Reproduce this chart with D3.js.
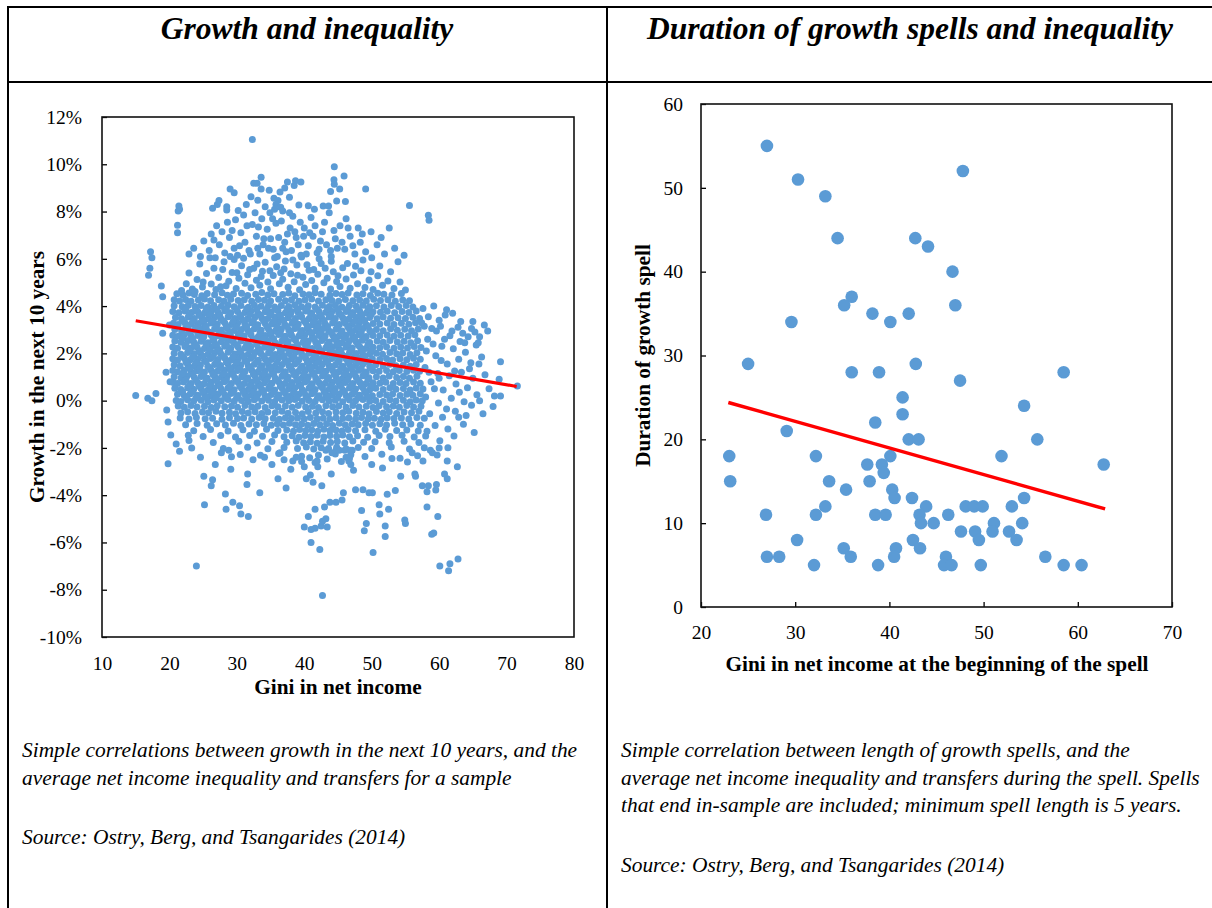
<!DOCTYPE html>
<html>
<head>
<meta charset="utf-8">
<script src="https://cdn.jsdelivr.net/npm/d3@7"></script>
<style>
  html, body { margin: 0; padding: 0; background: #fff; }
  svg { display: block; font-family: "Liberation Serif", "Times New Roman", serif; }
</style>
</head>
<body>
<svg id="chart" width="1212" height="908"></svg>
<script>
// ---------- Panel 1: growth in the next 10 years vs. Gini in net income ----------
// Each entry is [gini, growth %].
const giniGrowthCore = [
  [21.1,4.52],[22.0,4.47],[22.9,4.55],[23.7,4.49],[24.8,4.44],[25.6,4.53],[26.7,4.48],[27.8,4.56],[28.6,4.46],[29.5,4.51],[30.7,4.54],[31.6,4.45],[32.8,4.50],[33.7,4.57],[34.6,4.47],[35.5,4.52],[36.8,4.49],[37.7,4.55],[38.6,4.44],[39.8,4.51],[40.7,4.48],[41.6,4.56],[42.5,4.50],[43.8,4.46],[44.7,4.53],[45.6,4.49],[46.5,4.55],[47.8,4.47],[48.7,4.52],[49.8,4.45],[50.9,4.54],[51.8,4.50],[53.0,4.47],[54.4,4.53],
  [20.7,4.27],[21.5,4.22],[22.4,4.28],[23.2,4.21],[24.3,4.26],[25.2,4.30],[26.1,4.23],[27.3,4.27],[28.1,4.20],[29.1,4.29],[30.2,4.24],[31.1,4.27],[32.2,4.21],[33.2,4.28],[34.1,4.25],[35.0,4.22],[36.2,4.29],[37.2,4.23],[38.1,4.27],[39.2,4.20],[40.1,4.26],[41.1,4.30],[42.1,4.22],[43.2,4.27],[44.1,4.24],[45.1,4.21],[46.1,4.28],[47.2,4.23],[48.2,4.26],[49.2,4.22],[50.3,4.29],[51.3,4.24],[52.4,4.27],[53.5,4.21],[54.6,4.26],[55.6,4.23],
  [20.7,4.01],[21.9,3.97],[22.8,4.04],[23.8,3.98],[24.7,4.02],[25.7,3.96],[26.6,4.03],[27.7,3.99],[28.7,4.05],[29.6,3.97],[30.6,4.02],[31.7,3.95],[32.6,4.04],[33.6,3.99],[34.7,4.03],[35.6,3.96],[36.6,4.02],[37.7,3.98],[38.6,4.05],[39.6,3.97],[40.6,4.01],[41.6,3.96],[42.7,4.04],[43.7,3.98],[44.6,4.02],[45.6,3.95],[46.7,4.03],[47.7,3.99],[48.7,4.04],[49.7,3.97],[50.7,4.01],[51.8,3.96],[52.9,4.03],[54.0,3.98],[55.1,4.02],[56.1,3.96],
  [20.5,3.77],[21.4,3.72],[22.3,3.79],[23.3,3.73],[24.2,3.76],[25.2,3.71],[26.2,3.78],[27.2,3.74],[28.2,3.80],[29.1,3.72],[30.1,3.77],[31.2,3.73],[32.1,3.79],[33.1,3.71],[34.2,3.76],[35.1,3.74],[36.1,3.80],[37.2,3.72],[38.1,3.77],[39.1,3.73],[40.2,3.79],[41.1,3.71],[42.2,3.76],[43.2,3.74],[44.1,3.78],[45.1,3.72],[46.2,3.77],[47.2,3.73],[48.2,3.79],[49.2,3.71],[50.2,3.76],[51.3,3.74],[52.3,3.78],[53.4,3.72],[54.5,3.77],[55.5,3.73],[56.6,3.79],
  [20.9,3.52],[21.8,3.46],[22.8,3.54],[23.7,3.48],[24.8,3.51],[25.7,3.45],[26.7,3.53],[27.6,3.49],[28.7,3.55],[29.7,3.47],[30.6,3.52],[31.6,3.46],[32.7,3.54],[33.7,3.50],[34.6,3.47],[35.7,3.53],[36.6,3.45],[37.6,3.51],[38.7,3.48],[39.6,3.55],[40.7,3.46],[41.7,3.52],[42.6,3.49],[43.7,3.54],[44.6,3.47],[45.7,3.51],[46.6,3.45],[47.7,3.53],[48.6,3.48],[49.7,3.52],[50.8,3.46],[51.7,3.54],[52.8,3.49],[53.9,3.51],[55.0,3.47],[56.1,3.53],[57.1,3.48],
  [20.6,3.27],[21.3,3.22],[22.3,3.29],[23.2,3.23],[24.3,3.26],[25.2,3.21],[26.2,3.28],[27.1,3.24],[28.2,3.30],[29.2,3.22],[30.1,3.27],[31.2,3.23],[32.2,3.29],[33.1,3.21],[34.2,3.26],[35.2,3.24],[36.1,3.30],[37.1,3.22],[38.2,3.27],[39.1,3.23],[40.2,3.29],[41.2,3.21],[42.1,3.26],[43.1,3.24],[44.2,3.28],[45.2,3.22],[46.1,3.27],[47.1,3.23],[48.2,3.29],[49.2,3.21],[50.2,3.26],[51.2,3.24],[52.3,3.28],[53.3,3.22],[54.4,3.27],[55.5,3.23],[56.5,3.29],
  [20.8,3.01],[21.8,2.96],[22.7,3.04],[23.7,2.98],[24.7,3.02],[25.6,2.95],[26.7,3.03],[27.7,2.99],[28.6,3.05],[29.6,2.97],[30.7,3.01],[31.7,2.96],[32.6,3.04],[33.6,2.98],[34.7,3.02],[35.7,2.95],[36.6,3.03],[37.7,2.99],[38.6,3.05],[39.7,2.97],[40.6,3.01],[41.7,2.96],[42.7,3.04],[43.6,2.98],[44.7,3.02],[45.6,2.95],[46.7,3.03],[47.6,2.99],[48.7,3.05],[49.7,2.97],[50.7,3.01],[51.7,2.96],[52.8,3.04],[53.8,2.98],[54.9,3.02],[55.9,2.96],[56.9,3.03],
  [20.5,2.77],[21.3,2.72],[22.2,2.79],[23.2,2.73],[24.2,2.76],[25.1,2.71],[26.2,2.78],[27.2,2.74],[28.1,2.80],[29.1,2.72],[30.2,2.77],[31.1,2.73],[32.1,2.79],[33.2,2.71],[34.2,2.76],[35.1,2.74],[36.2,2.80],[37.2,2.72],[38.1,2.77],[39.2,2.73],[40.1,2.79],[41.2,2.71],[42.2,2.76],[43.1,2.74],[44.2,2.78],[45.1,2.72],[46.2,2.77],[47.2,2.73],[48.1,2.79],[49.2,2.71],[50.2,2.76],[51.2,2.74],[52.3,2.78],[53.3,2.72],[54.3,2.77],[55.4,2.73],[56.4,2.79],
  [20.8,2.52],[21.7,2.47],[22.8,2.54],[23.6,2.48],[24.7,2.51],[25.7,2.45],[26.6,2.53],[27.7,2.49],[28.7,2.55],[29.5,2.46],[30.6,2.52],[31.7,2.47],[32.7,2.54],[33.5,2.48],[34.6,2.51],[35.7,2.45],[36.7,2.53],[37.6,2.50],[38.7,2.55],[39.8,2.46],[40.6,2.52],[41.7,2.47],[42.6,2.54],[43.7,2.48],[44.8,2.51],[45.6,2.45],[46.7,2.53],[47.7,2.49],[48.6,2.55],[49.7,2.46],[50.8,2.52],[51.7,2.47],[52.7,2.54],[53.8,2.48],[54.8,2.51],[55.8,2.45],[56.8,2.53],
  [20.5,2.27],[21.2,2.22],[22.3,2.29],[23.2,2.23],[24.1,2.26],[25.2,2.21],[26.2,2.28],[27.1,2.24],[28.2,2.30],[29.1,2.22],[30.2,2.27],[31.2,2.23],[32.1,2.29],[33.2,2.21],[34.1,2.26],[35.2,2.24],[36.2,2.30],[37.1,2.22],[38.2,2.27],[39.1,2.23],[40.2,2.29],[41.2,2.21],[42.1,2.26],[43.2,2.24],[44.2,2.28],[45.1,2.22],[46.2,2.27],[47.1,2.23],[48.2,2.29],[49.1,2.21],[50.2,2.26],[51.2,2.24],[52.2,2.28],[53.3,2.22],[54.3,2.27],[55.3,2.23],[56.3,2.29],[57.3,2.25],
  [20.7,2.01],[21.7,1.96],[22.7,2.04],[23.7,1.98],[24.6,2.02],[25.7,1.95],[26.7,2.03],[27.6,1.99],[28.7,2.05],[29.7,1.97],[30.6,2.01],[31.7,1.96],[32.7,2.04],[33.6,1.98],[34.7,2.02],[35.7,1.95],[36.6,2.03],[37.7,1.99],[38.7,2.05],[39.6,1.97],[40.7,2.01],[41.7,1.96],[42.6,2.04],[43.7,1.98],[44.7,2.02],[45.6,1.95],[46.7,2.03],[47.7,1.99],[48.6,2.05],[49.7,1.97],[50.7,2.01],[51.6,1.96],[52.7,2.04],[53.7,1.98],[54.6,2.02],[55.7,1.95],[56.7,2.03],
  [20.5,1.77],[21.2,1.72],[22.2,1.79],[23.1,1.73],[24.2,1.76],[25.2,1.71],[26.1,1.78],[27.2,1.74],[28.2,1.80],[29.1,1.72],[30.2,1.77],[31.2,1.73],[32.1,1.79],[33.2,1.71],[34.2,1.76],[35.1,1.74],[36.2,1.80],[37.2,1.72],[38.1,1.77],[39.2,1.73],[40.2,1.79],[41.1,1.71],[42.2,1.76],[43.2,1.74],[44.1,1.78],[45.2,1.72],[46.2,1.77],[47.1,1.73],[48.2,1.79],[49.2,1.71],[50.1,1.76],[51.2,1.74],[52.2,1.78],[53.1,1.72],[54.2,1.77],[55.2,1.73],[56.2,1.79],[57.2,1.75],
  [20.7,1.52],[21.6,1.47],[22.7,1.54],[23.7,1.48],[24.6,1.51],[25.7,1.45],[26.7,1.53],[27.6,1.49],[28.7,1.55],[29.7,1.46],[30.6,1.52],[31.7,1.47],[32.6,1.54],[33.7,1.48],[34.7,1.51],[35.6,1.45],[36.7,1.53],[37.7,1.50],[38.6,1.55],[39.7,1.46],[40.7,1.52],[41.6,1.47],[42.7,1.54],[43.7,1.48],[44.6,1.51],[45.7,1.45],[46.7,1.53],[47.6,1.49],[48.7,1.55],[49.7,1.46],[50.6,1.52],[51.7,1.47],[52.7,1.54],[53.6,1.48],[54.7,1.51],[55.7,1.45],[56.6,1.53],
  [20.5,1.27],[21.2,1.22],[22.2,1.29],[23.2,1.23],[24.1,1.26],[25.2,1.21],[26.2,1.28],[27.1,1.24],[28.2,1.30],[29.2,1.22],[30.1,1.27],[31.2,1.23],[32.2,1.29],[33.1,1.21],[34.2,1.26],[35.2,1.24],[36.1,1.30],[37.2,1.22],[38.2,1.27],[39.1,1.23],[40.2,1.29],[41.2,1.21],[42.1,1.26],[43.2,1.24],[44.2,1.28],[45.1,1.22],[46.2,1.27],[47.2,1.23],[48.1,1.29],[49.2,1.21],[50.2,1.26],[51.1,1.24],[52.2,1.28],[53.2,1.22],[54.1,1.27],[55.2,1.23],[56.2,1.29],[57.1,1.24],
  [20.7,1.01],[21.7,0.96],[22.6,1.04],[23.7,0.98],[24.7,1.02],[25.6,0.95],[26.7,1.03],[27.7,0.99],[28.6,1.05],[29.7,0.97],[30.7,1.01],[31.6,0.96],[32.7,1.04],[33.7,0.98],[34.6,1.02],[35.7,0.95],[36.7,1.03],[37.6,0.99],[38.7,1.05],[39.7,0.97],[40.6,1.01],[41.7,0.96],[42.7,1.04],[43.6,0.98],[44.7,1.02],[45.7,0.95],[46.6,1.03],[47.7,0.99],[48.7,1.05],[49.6,0.97],[50.7,1.01],[51.7,0.96],[52.6,1.04],[53.7,0.98],[54.7,1.02],[55.6,0.95],[56.7,1.03],
  [20.6,0.77],[21.2,0.72],[22.1,0.79],[23.2,0.73],[24.2,0.76],[25.1,0.71],[26.2,0.78],[27.2,0.74],[28.1,0.80],[29.2,0.72],[30.2,0.77],[31.1,0.73],[32.2,0.79],[33.2,0.71],[34.1,0.76],[35.2,0.74],[36.2,0.80],[37.1,0.72],[38.2,0.77],[39.2,0.73],[40.1,0.79],[41.2,0.71],[42.2,0.76],[43.1,0.74],[44.2,0.78],[45.2,0.72],[46.1,0.77],[47.2,0.73],[48.2,0.79],[49.1,0.71],[50.2,0.76],[51.2,0.74],[52.1,0.78],[53.2,0.72],[54.2,0.77],[55.1,0.73],[56.2,0.79],[57.2,0.74],
  [20.8,0.52],[21.7,0.47],[22.7,0.54],[23.6,0.48],[24.7,0.51],[25.7,0.45],[26.6,0.53],[27.7,0.49],[28.7,0.55],[29.6,0.46],[30.7,0.52],[31.7,0.47],[32.6,0.54],[33.7,0.48],[34.7,0.51],[35.6,0.45],[36.7,0.53],[37.7,0.50],[38.6,0.55],[39.7,0.46],[40.7,0.52],[41.6,0.47],[42.7,0.54],[43.7,0.48],[44.6,0.51],[45.7,0.45],[46.7,0.53],[47.6,0.49],[48.7,0.55],[49.7,0.46],[50.6,0.52],[51.7,0.47],[52.7,0.54],[53.6,0.48],[54.7,0.51],[55.7,0.45],[56.6,0.53],[57.6,0.49],
  [21.2,0.27],[22.2,0.22],[23.1,0.29],[24.2,0.23],[25.2,0.26],[26.1,0.21],[27.2,0.28],[28.2,0.24],[29.1,0.30],[30.2,0.22],[31.2,0.27],[32.1,0.23],[33.2,0.29],[34.2,0.21],[35.1,0.26],[36.2,0.24],[37.2,0.30],[38.1,0.22],[39.2,0.27],[40.2,0.23],[41.1,0.29],[42.2,0.21],[43.2,0.26],[44.1,0.24],[45.2,0.28],[46.2,0.22],[47.1,0.27],[48.2,0.23],[49.2,0.29],[50.1,0.21],[51.2,0.26],[52.2,0.24],[53.1,0.28],[54.2,0.22],[55.2,0.27],[56.1,0.23],[57.2,0.29],
  [21.0,0.01],[21.7,-0.04],[22.7,0.04],[23.6,-0.02],[24.7,0.02],[25.7,-0.05],[26.6,0.03],[27.7,-0.01],[28.7,0.05],[29.6,-0.03],[30.7,0.01],[31.7,-0.04],[32.6,0.04],[33.7,-0.02],[34.7,0.02],[35.6,-0.05],[36.7,0.03],[37.7,-0.01],[38.6,0.05],[39.7,-0.03],[40.7,0.01],[41.6,-0.04],[42.7,0.04],[43.7,-0.02],[44.6,0.02],[45.7,-0.05],[46.7,0.03],[47.6,-0.01],[48.7,0.05],[49.7,-0.03],[50.6,0.01],[51.7,-0.04],[52.7,0.04],[53.6,-0.02],[54.7,0.02],[55.7,-0.05],[56.6,0.03],[57.5,-0.01],
  [21.3,-0.23],[22.2,-0.28],[23.2,-0.21],[24.1,-0.27],[25.2,-0.24],[26.2,-0.29],[27.1,-0.22],[28.2,-0.26],[29.2,-0.23],[30.1,-0.28],[31.2,-0.21],[32.2,-0.27],[33.1,-0.24],[34.2,-0.29],[35.2,-0.22],[36.1,-0.26],[37.2,-0.23],[38.2,-0.28],[39.1,-0.21],[40.2,-0.27],[41.2,-0.24],[42.1,-0.29],[43.2,-0.22],[44.2,-0.26],[45.1,-0.23],[46.2,-0.28],[47.2,-0.21],[48.1,-0.27],[49.2,-0.24],[50.2,-0.29],[51.1,-0.22],[52.2,-0.26],[53.2,-0.23],[54.1,-0.28],[55.2,-0.21],[56.2,-0.27],[57.3,-0.24],
  [21.7,-0.52],[22.7,-0.47],[23.8,-0.54],[24.9,-0.48],[25.8,-0.51],[26.9,-0.45],[27.8,-0.53],[28.9,-0.49],[29.8,-0.55],[30.8,-0.46],[31.7,-0.52],[32.7,-0.47],[33.7,-0.54],[34.6,-0.48],[35.7,-0.51],[36.7,-0.45],[37.6,-0.53],[38.7,-0.50],[39.7,-0.55],[40.6,-0.46],[41.7,-0.52],[42.7,-0.47],[43.6,-0.54],[44.7,-0.48],[45.7,-0.51],[46.6,-0.45],[47.7,-0.53],[48.7,-0.49],[49.6,-0.55],[50.7,-0.46],[51.7,-0.52],[52.6,-0.47],[53.7,-0.54],[54.8,-0.48],[55.9,-0.51],[57.0,-0.45]
];

// Observations packed between the rows above, in the densest part of the cloud
const giniGrowthInner = [
  [22.45,0.13],[23.95,0.11],[25.45,0.14],[26.95,0.12],[28.45,0.13],[29.95,0.11],[31.45,0.14],[32.95,0.12],[34.45,0.13],[35.95,0.11],[37.45,0.14],[38.95,0.12],[40.45,0.13],[41.95,0.11],[43.45,0.14],[44.95,0.12],[46.45,0.13],[47.95,0.11],[49.45,0.14],
  [21.95,0.38],[23.45,0.36],[24.95,0.39],[26.45,0.37],[27.95,0.38],[29.45,0.36],[30.95,0.39],[32.45,0.37],[33.95,0.38],[35.45,0.36],[36.95,0.39],[38.45,0.37],[39.95,0.38],[41.45,0.36],[42.95,0.39],[44.45,0.37],[45.95,0.38],[47.45,0.36],[48.95,0.39],
  [22.95,0.63],[24.45,0.61],[25.95,0.64],[27.45,0.62],[28.95,0.63],[30.45,0.61],[31.95,0.64],[33.45,0.62],[34.95,0.63],[36.45,0.61],[37.95,0.64],[39.45,0.62],[40.95,0.63],[42.45,0.61],[43.95,0.64],[45.45,0.62],[46.95,0.63],[48.45,0.61],[49.95,0.64],
  [22.45,0.88],[23.95,0.86],[25.45,0.89],[26.95,0.87],[28.45,0.88],[29.95,0.86],[31.45,0.89],[32.95,0.87],[34.45,0.88],[35.95,0.86],[37.45,0.89],[38.95,0.87],[40.45,0.88],[41.95,0.86],[43.45,0.89],[44.95,0.87],[46.45,0.88],[47.95,0.86],[49.45,0.89],
  [21.95,1.13],[23.45,1.11],[24.95,1.14],[26.45,1.12],[27.95,1.13],[29.45,1.11],[30.95,1.14],[32.45,1.12],[33.95,1.13],[35.45,1.11],[36.95,1.14],[38.45,1.12],[39.95,1.13],[41.45,1.11],[42.95,1.14],[44.45,1.12],[45.95,1.13],[47.45,1.11],[48.95,1.14],
  [22.95,1.38],[24.45,1.36],[25.95,1.39],[27.45,1.37],[28.95,1.38],[30.45,1.36],[31.95,1.39],[33.45,1.37],[34.95,1.38],[36.45,1.36],[37.95,1.39],[39.45,1.37],[40.95,1.38],[42.45,1.36],[43.95,1.39],[45.45,1.37],[46.95,1.38],[48.45,1.36],[49.95,1.39],
  [22.45,1.63],[23.95,1.61],[25.45,1.64],[26.95,1.62],[28.45,1.63],[29.95,1.61],[31.45,1.64],[32.95,1.62],[34.45,1.63],[35.95,1.61],[37.45,1.64],[38.95,1.62],[40.45,1.63],[41.95,1.61],[43.45,1.64],[44.95,1.62],[46.45,1.63],[47.95,1.61],[49.45,1.64],
  [21.95,1.88],[23.45,1.86],[24.95,1.89],[26.45,1.87],[27.95,1.88],[29.45,1.86],[30.95,1.89],[32.45,1.87],[33.95,1.88],[35.45,1.86],[36.95,1.89],[38.45,1.87],[39.95,1.88],[41.45,1.86],[42.95,1.89],[44.45,1.87],[45.95,1.88],[47.45,1.86],[48.95,1.89],
  [22.95,2.13],[24.45,2.11],[25.95,2.14],[27.45,2.12],[28.95,2.13],[30.45,2.11],[31.95,2.14],[33.45,2.12],[34.95,2.13],[36.45,2.11],[37.95,2.14],[39.45,2.12],[40.95,2.13],[42.45,2.11],[43.95,2.14],[45.45,2.12],[46.95,2.13],[48.45,2.11],[49.95,2.14],
  [22.45,2.38],[23.95,2.36],[25.45,2.39],[26.95,2.37],[28.45,2.38],[29.95,2.36],[31.45,2.39],[32.95,2.37],[34.45,2.38],[35.95,2.36],[37.45,2.39],[38.95,2.37],[40.45,2.38],[41.95,2.36],[43.45,2.39],[44.95,2.37],[46.45,2.38],[47.95,2.36],[49.45,2.39],
  [21.95,2.63],[23.45,2.61],[24.95,2.64],[26.45,2.62],[27.95,2.63],[29.45,2.61],[30.95,2.64],[32.45,2.62],[33.95,2.63],[35.45,2.61],[36.95,2.64],[38.45,2.62],[39.95,2.63],[41.45,2.61],[42.95,2.64],[44.45,2.62],[45.95,2.63],[47.45,2.61],[48.95,2.64],
  [22.95,2.88],[24.45,2.86],[25.95,2.89],[27.45,2.87],[28.95,2.88],[30.45,2.86],[31.95,2.89],[33.45,2.87],[34.95,2.88],[36.45,2.86],[37.95,2.89],[39.45,2.87],[40.95,2.88],[42.45,2.86],[43.95,2.89],[45.45,2.87],[46.95,2.88],[48.45,2.86],[49.95,2.89],
  [22.45,3.13],[23.95,3.11],[25.45,3.14],[26.95,3.12],[28.45,3.13],[29.95,3.11],[31.45,3.14],[32.95,3.12],[34.45,3.13],[35.95,3.11],[37.45,3.14],[38.95,3.12],[40.45,3.13],[41.95,3.11],[43.45,3.14],[44.95,3.12],[46.45,3.13],[47.95,3.11],[49.45,3.14],
  [21.95,3.38],[23.45,3.36],[24.95,3.39],[26.45,3.37],[27.95,3.38],[29.45,3.36],[30.95,3.39],[32.45,3.37],[33.95,3.38],[35.45,3.36],[36.95,3.39],[38.45,3.37],[39.95,3.38],[41.45,3.36],[42.95,3.39],[44.45,3.37],[45.95,3.38],[47.45,3.36],[48.95,3.39],
  [22.95,3.63],[24.45,3.61],[25.95,3.64],[27.45,3.62],[28.95,3.63],[30.45,3.61],[31.95,3.64],[33.45,3.62],[34.95,3.63],[36.45,3.61],[37.95,3.64],[39.45,3.62],[40.95,3.63],[42.45,3.61],[43.95,3.64],[45.45,3.62],[46.95,3.63],[48.45,3.61],[49.95,3.64],
  [22.45,3.88],[23.95,3.86],[25.45,3.89],[26.95,3.87],[28.45,3.88],[29.95,3.86],[31.45,3.89],[32.95,3.87],[34.45,3.88],[35.95,3.86],[37.45,3.89],[38.95,3.87],[40.45,3.88],[41.95,3.86],[43.45,3.89],[44.95,3.87],[46.45,3.88],[47.95,3.86],[49.45,3.89]
];

const giniGrowthBelow = [
  [21.6,-0.73],[22.9,-0.78],[24.0,-0.71],[25.3,-0.77],[26.4,-0.74],[27.8,-0.79],[28.9,-0.72],[30.1,-0.76],[31.0,-0.73],[32.2,-0.78],[33.3,-0.71],[34.2,-0.77],[35.4,-0.74],[36.3,-0.79],[37.2,-0.72],[38.1,-0.76],[39.0,-0.73],[40.0,-0.78],[40.9,-0.71],[41.9,-0.77],[42.8,-0.74],[43.8,-0.79],[44.7,-0.72],[45.7,-0.76],[46.6,-0.73],[47.6,-0.78],[48.5,-0.71],[49.5,-0.77],[50.4,-0.74],[51.4,-0.79],[52.3,-0.72],[53.3,-0.76],[54.4,-0.73],[55.5,-0.78],[56.7,-0.71],[57.8,-0.75],
  [22.4,-1.02],[24.1,-0.97],[25.6,-1.04],[27.0,-0.98],[28.3,-1.03],[29.5,-0.96],[30.6,-1.05],[31.8,-0.99],[32.9,-1.02],[34.0,-0.97],[35.1,-1.04],[36.0,-0.98],[36.9,-1.03],[37.8,-0.96],[38.7,-1.02],[39.6,-0.99],[40.5,-1.04],[41.4,-0.97],[42.3,-1.02],[43.3,-0.98],[44.2,-1.05],[45.2,-0.96],[46.1,-1.03],[47.1,-0.99],[48.0,-1.02],[49.1,-0.97],[50.1,-1.04],[51.2,-0.98],[52.2,-1.03],[53.4,-0.96],[54.6,-1.02],[55.8,-0.99],[57.2,-1.04],
  [23.6,-1.27],[26.1,-1.22],[28.7,-1.28],[30.9,-1.23],[32.6,-1.29],[34.4,-1.21],[36.1,-1.26],[37.4,-1.24],[38.4,-1.30],[39.3,-1.22],[40.2,-1.27],[41.1,-1.23],[42.0,-1.29],[42.9,-1.21],[43.8,-1.26],[44.7,-1.24],[45.6,-1.28],[46.5,-1.22],[47.6,-1.27],[49.0,-1.23],[50.6,-1.29],[52.0,-1.21],[53.7,-1.26],[55.2,-1.24],[56.9,-1.28],
  [25.0,-1.52],[27.6,-1.47],[29.8,-1.54],[31.9,-1.48],[33.8,-1.51],[35.6,-1.45],[37.0,-1.53],[38.2,-1.49],[39.2,-1.55],[40.1,-1.47],[41.0,-1.52],[41.9,-1.46],[42.9,-1.54],[43.8,-1.48],[44.8,-1.51],[45.7,-1.45],[46.7,-1.53],[47.9,-1.49],[49.4,-1.55],[51.1,-1.47],[52.7,-1.52],[54.5,-1.46],[56.3,-1.54],[58.0,-1.50],
  [26.5,-1.77],[30.3,-1.72],[33.0,-1.79],[35.2,-1.73],[37.4,-1.76],[38.8,-1.71],[39.9,-1.78],[40.9,-1.74],[41.9,-1.80],[42.8,-1.72],[43.9,-1.77],[44.9,-1.73],[46.0,-1.79],[47.2,-1.71],[48.8,-1.76],[50.5,-1.74],[52.6,-1.78],[54.8,-1.72],[57.0,-1.77],
  [28.0,-2.02],[31.6,-1.97],[34.6,-2.04],[37.0,-1.98],[39.0,-2.03],[40.3,-1.96],[41.4,-2.05],[42.5,-1.99],[43.6,-2.02],[44.8,-1.97],[46.2,-2.04],[47.1,-2.10],[48.0,-1.98],[50.0,-2.03],[52.9,-1.96],[55.6,-2.05],[57.8,-1.99],
  [30.5,-2.28],[33.5,-2.31],[36.2,-2.24],[39.6,-2.35],[40.8,-2.42],[42.1,-2.30],[43.4,-2.47],[44.6,-2.26],[46.2,-2.40],[46.9,-2.29],[49.0,-2.36],[51.5,-2.27],[54.2,-2.44],[56.8,-2.33],[59.0,-2.21],[38.3,-2.55],[41.6,-2.62],[45.5,-2.58]
];

const giniGrowthRightTail = [
  [57.6,3.90],[59.2,4.00],[61.1,3.85],[62.0,3.70],[58.4,3.55],[60.0,3.40],[60.9,3.62],[63.2,3.35],[62.8,3.10],[64.8,3.05],[66.7,3.20],[65.3,2.90],[66.0,2.70],[64.3,2.70],[63.1,2.50],[61.6,2.75],[59.6,2.95],[58.3,2.60],[60.4,2.30],[62.1,2.20],[63.9,2.05],[65.5,2.35],[66.3,1.85],[64.7,1.60],[62.9,1.75],[61.2,1.55],[59.5,1.90],[58.1,2.10],[57.9,1.40],[59.8,1.15],[61.5,1.05],[63.3,1.20],[65.0,0.95],[66.8,1.10],[64.2,0.55],[62.5,0.70],[60.6,0.45],[58.8,0.80],[58.0,0.15],[59.9,-0.10],[61.8,0.10],[63.7,-0.05],[65.6,0.25],[66.0,0.00],[68.2,0.20],[69.1,1.65],[68.9,0.90],[69.1,0.20],[71.6,0.62],[68.0,-0.25],[67.4,0.50],[64.0,-0.63],[62.4,-0.45],[60.5,-0.70],[58.6,-0.55],[63.6,-1.00],[65.2,-1.35],[61.3,-1.20],[59.4,-1.05],[62.2,-1.50],[61.3,-1.99],[60.1,-1.70],[58.7,-2.10],[62.7,-2.80],[61.2,-2.55],[65.8,2.45],[67.2,2.95],[63.5,2.85],[60.2,3.15],[57.8,3.15],
  [57.4,3.30],[58.9,3.05],[59.1,2.40],[60.8,2.60],[61.9,2.95],[62.3,1.25],[63.0,0.35],[64.5,1.35],[65.9,1.55],[60.3,1.70],[58.5,1.20],[59.3,0.50],[61.1,-0.35],[62.9,-0.70],[64.8,-0.20],[66.5,-0.55],[60.0,0.95],[63.8,2.45],[65.0,3.35],[58.2,-1.30]
];

const giniGrowthAbove = [
  [21.8,4.66],[22.5,4.95],[23.4,4.72],[24.1,5.12],[24.9,4.81],[25.5,5.38],[26.2,4.93],[26.9,4.70],[27.3,5.21],[27.9,5.55],[28.4,4.86],[28.8,5.05],[29.3,5.42],[29.9,4.74],[30.3,5.18],[30.7,5.71],[31.2,4.97],[31.6,5.33],[32.1,4.78],[32.5,5.60],[32.9,5.09],[33.4,4.88],[33.8,5.47],[34.2,5.85],[34.6,5.02],[35.0,4.73],[35.4,5.29],[35.9,5.66],[36.3,4.95],[36.8,5.14],[37.2,5.91],[37.6,4.80],[38.0,5.37],[38.5,5.03],[38.9,5.74],[39.3,4.69],[39.8,5.22],[40.2,4.91],[40.7,5.52],[41.1,5.08],[41.6,4.76],[42.0,5.35],[42.5,5.80],[42.9,4.99],[43.4,5.18],[43.9,4.72],[44.3,5.45],[44.8,5.04],[45.3,4.83],[45.7,5.62],[46.2,5.15],[46.8,4.75],[47.3,5.32],[47.9,4.94],[48.4,5.50],[49.0,4.79],[49.6,5.10],[50.2,4.70],[50.9,5.28],[51.6,4.88],[52.4,5.06],[53.3,4.74],[54.2,5.02],[55.0,4.68],
  [22.9,5.40],[23.8,4.62],[25.0,5.02],[26.6,5.60],[27.6,4.82],[28.1,5.88],[29.6,5.97],[30.0,5.41],[31.0,6.02],[31.9,5.55],[33.0,5.78],[33.6,5.25],[34.9,5.49],[35.6,6.05],[36.5,5.41],[37.0,5.57],[38.3,5.95],[39.0,5.30],[39.6,6.08],[40.4,5.75],[41.4,5.55],[42.2,6.00],[43.1,5.60],[44.0,5.90],[45.0,5.28],[46.4,5.80],[47.6,5.69],[48.7,5.95],[49.9,5.45],[51.2,5.70],[52.8,5.45],[53.9,5.88],[24.5,5.78],[26.0,6.05],
  [24.6,6.10],[25.9,6.35],[26.8,6.05],[27.4,6.60],[28.2,6.25],[28.9,6.90],[29.6,6.45],[30.1,6.15],[30.6,7.10],[31.2,6.70],[31.8,6.35],[32.3,7.45],[32.9,6.95],[33.4,6.20],[33.9,6.60],[34.5,7.25],[35.0,6.85],[35.4,6.40],[36.0,6.10],[36.6,7.60],[37.1,6.70],[37.5,7.05],[38.1,6.35],[38.8,6.90],[39.5,6.15],[40.0,7.30],[40.6,6.55],[41.3,6.95],[41.9,6.25],[42.7,7.15],[43.3,6.60],[44.0,6.10],[44.6,6.85],[45.3,7.40],[46.0,6.40],[46.8,6.95],[47.5,6.20],[48.3,6.70],[49.1,6.30],[50.0,6.05],[50.8,6.60],[51.9,6.20],[53.4,6.45],[54.8,6.15],[29.8,7.65],[31.0,7.85],[33.7,7.70],[35.8,7.50],[38.3,7.80],[39.4,7.55],[41.0,7.75],[43.7,7.95],[46.2,7.70],[48.0,7.30],[49.9,7.15],[51.4,6.90],[52.6,7.30],[27.0,7.40],[26.2,7.05],[25.1,6.75],[23.6,6.45],[22.9,6.20],[34.9,7.95],[37.9,7.30],[40.8,7.10],[42.2,6.40],[44.9,6.45],[36.8,6.45],[33.1,6.45],[29.0,6.10],
  [26.6,6.80],[27.8,7.15],[28.6,7.55],[29.3,7.20],[30.4,6.55],[31.5,7.40],[32.0,6.20],[32.7,7.95],[33.2,7.35],[34.0,6.85],[34.7,6.45],[35.3,7.70],[36.2,6.90],[37.3,6.30],[37.8,7.95],[38.6,7.15],[39.1,6.60],[39.9,6.95],[40.3,6.20],[41.6,7.40],[42.4,6.75],[43.0,7.55],[43.9,6.35],[44.4,7.20],[45.6,6.70],[46.5,7.30],[47.2,6.55],[48.6,7.05],[31.4,8.30],[34.2,8.20],[37.8,8.60],[41.5,8.10],[44.8,8.45],
  [32.3,11.05],[44.45,9.90],[45.9,9.50],[33.6,9.45],[32.5,9.20],[33.0,9.20],[38.7,9.30],[39.5,9.25],[38.5,9.10],[37.5,9.25],[44.4,9.35],[44.45,9.15],[29.0,8.95],[29.6,8.80],[33.6,8.95],[34.8,8.90],[37.1,9.00],[36.4,8.83],[43.9,8.85],[45.25,8.95],[49.1,8.95],[32.1,8.63],[33.1,8.48],[35.5,8.56],[36.1,8.47],[35.8,8.30],[46.1,8.42],[21.4,8.23],[21.5,8.10],[21.3,8.02],[21.2,7.42],[21.2,7.10],[26.4,8.14],[27.1,8.30],[27.35,8.47],[28.5,8.20],[28.5,8.07],[30.2,8.04],[35.6,8.10],[36.5,8.18],[36.8,8.02],[39.2,8.28],[40.6,8.25],[42.8,8.23],[43.6,8.23],[55.6,8.26],[58.4,7.84],[58.5,7.63]
];

const giniGrowthLeftTail = [
  [17.2,6.30],[17.4,6.05],[17.1,5.60],[16.9,5.30],[18.8,4.85],[19.0,4.40],[19.0,2.85],[15.0,0.22],[16.8,0.10],[17.4,0.00],[18.0,0.30],[19.6,-0.40],[19.8,-2.67],[20.2,-1.45],[21.0,-1.83],[21.5,-2.14],[22.8,-1.46],[22.9,-1.69],[19.5,1.20],[20.0,3.20],[19.8,-0.90],[20.1,0.80]
];

const giniGrowthLowTail = [
  [24.0,-7.00],[42.7,-8.24],[60.1,-7.00],[61.6,-6.90],[61.4,-7.20],[62.8,-6.70],[50.2,-6.43],[41.0,-6.00],[42.3,-6.30],[40.0,-5.35],[41.0,-5.45],[41.6,-5.40],[42.5,-5.30],[43.4,-5.35],[42.7,-5.10],[43.2,-5.00],[43.0,-4.50],[43.8,-4.30],[25.2,-4.40],[28.4,-4.60],[28.3,-3.95],[29.4,-4.30],[30.4,-4.45],[30.6,-4.80],[31.7,-4.90],[33.4,-3.90],[25.1,-3.20],[26.4,-3.35],[26.2,-3.60],[29.1,-2.90],[31.6,-3.10],[31.5,-3.55],[27.7,-2.20],[28.8,-2.10],[29.2,-2.37],[47.6,-3.77],[48.7,-3.77],[48.5,-4.65],[49.2,-5.20],[48.9,-5.50],[49.6,-3.90],[50.1,-3.90],[51.1,-4.40],[51.2,-4.80],[52.0,-5.30],[52.0,-5.75],[52.5,-4.60],[52.3,-3.96],[53.5,-3.80],[54.9,-5.05],[55.0,-5.20],[55.3,-2.60],[56.4,-3.10],[56.5,-3.20],[57.5,-3.60],[58.4,-3.60],[58.2,-3.86],[58.2,-4.50],[58.9,-5.65],[59.2,-5.60],[59.8,-4.90],[59.6,-3.55],[59.5,-3.78],[61.2,-3.30],
  [39.6,-2.58],[40.0,-2.80],[41.9,-2.55],[42.0,-2.80],[43.2,-2.10],[44.1,-2.20],[44.7,-2.10],[45.2,-2.10],[46.0,-2.10],[46.8,-2.10],[46.7,-2.45],[46.9,-2.70],[46.6,-2.55],[45.8,-3.90],[44.7,-4.30],[45.6,-4.20],[40.3,-3.30],[40.9,-3.15],[41.3,-3.45],[40.6,-4.90],[41.6,-4.60],[42.6,-3.60],[35.2,-2.70],[36.1,-3.30],[37.3,-3.70],[38.0,-2.90],[34.1,-2.40],[32.4,-2.50],[26.8,-2.70],[24.6,-2.40],[23.3,-2.00],[44.0,-3.10],[47.3,-2.95],[50.0,-2.70],[51.6,-2.85],[53.0,-2.45],[54.3,-3.20],[56.0,-2.20],[57.6,-2.55],[59.7,-2.30],[60.8,-3.10],[60.0,-2.00],[38.8,-2.40],[37.0,-2.50],[36.4,-2.20]
];

const giniGrowth = [].concat(giniGrowthCore, giniGrowthInner, giniGrowthBelow,
                              giniGrowthRightTail, giniGrowthAbove, giniGrowthLeftTail,
                              giniGrowthLowTail);

// Fitted line, [gini, growth %] at both ends
const growthTrend = [[15.0, 3.38], [71.5, 0.60]];

const growthTicks = [-10, -8, -6, -4, -2, 0, 2, 4, 6, 8, 10, 12];
const giniTicksGrowth = [10, 20, 30, 40, 50, 60, 70, 80];

// ---------- Panel 2: duration of growth spells vs. Gini at spell start ----------
// Each entry is [gini, duration in years].
const spellPoints = [
  [27.0,55],[47.8,52],[30.3,51],[33.2,49],[34.5,44],[42.75,44],[44.1,43],[46.7,40],
  [36.0,37],[35.2,36],[47.0,36],[38.2,35],[42.05,35],[40.1,34],[29.6,34],
  [25.0,29],[36.0,28],[38.9,28],[42.8,29],[47.5,27],[58.5,28],
  [41.4,25],[54.3,24],[41.4,23],[38.5,22],[29.1,21],[42.05,20],[43.1,20],[55.7,20],
  [23.0,18],[32.2,18],[40.1,18],[51.9,18],[37.65,17],[39.2,17],[62.75,17],[39.4,16],
  [23.1,15],[33.6,15],[37.9,15],[35.4,14],[40.3,14],[40.55,13],[42.4,13],[54.3,13],
  [33.2,12],[43.9,12],[48.1,12],[49.0,12],[49.9,12],[53.0,12],
  [26.9,11],[32.2,11],[38.5,11],[39.6,11],[43.2,11],[46.25,11],
  [43.35,10],[44.7,10],[51.1,10],[54.1,10],
  [47.6,9],[49.1,9],[50.95,9],[52.7,9],
  [30.2,8],[42.5,8],[49.5,8],[53.5,8],
  [35.15,7],[40.7,7],[43.25,7],
  [27.0,6],[28.3,6],[35.9,6],[40.5,6],[46.0,6],[56.55,6],
  [32.0,5],[38.8,5],[45.8,5],[46.6,5],[49.7,5],[58.5,5],[60.4,5]
];

// Fitted line, [gini, duration] at both ends
const spellTrend = [[22.9, 24.4], [62.9, 11.7]];

const durationTicks = [0, 10, 20, 30, 40, 50, 60];
const giniTicksSpell = [20, 30, 40, 50, 60, 70];

// ---------- Text ----------
const panelTitles = ["Growth and inequality", "Duration of growth spells and inequality"];
const captionLeft = [
  "Simple correlations between growth in the next 10 years, and the",
  "average net income inequality and transfers for a sample"
];
const captionRight = [
  "Simple correlation between length of growth spells, and the",
  "average net income inequality and transfers during the spell. Spells",
  "that end in-sample are included; minimum spell length is 5 years."
];
const sourceNote = "Source: Ostry, Berg, and Tsangarides (2014)";

// ---------- Drawing ----------
const BLUE = "#5B9BD5";
const RED = "#FF0000";
const svg = d3.select("#chart");

// Table rules around the two panels
const rules = svg.append("g").attr("stroke", "#000").attr("stroke-width", 2);
rules.append("line").attr("x1", 7).attr("x2", 1212).attr("y1", 7).attr("y2", 7);
rules.append("line").attr("x1", 7).attr("x2", 1212).attr("y1", 82).attr("y2", 82);
rules.append("line").attr("x1", 8).attr("x2", 8).attr("y1", 6).attr("y2", 908);
rules.append("line").attr("x1", 607).attr("x2", 607).attr("y1", 6).attr("y2", 908);

// Panel titles
svg.append("text").attr("x", 307).attr("y", 39).attr("text-anchor", "middle")
  .attr("font-size", 31.5).attr("font-weight", "bold").attr("font-style", "italic")
  .text(panelTitles[0]);
svg.append("text").attr("x", 910).attr("y", 39).attr("text-anchor", "middle")
  .attr("font-size", 31.5).attr("font-weight", "bold").attr("font-style", "italic")
  .text(panelTitles[1]);

function styleAxis(g, size) {
  g.select(".domain").remove();
  g.selectAll(".tick line").attr("stroke", "#000").attr("stroke-width", 1.3);
  g.selectAll(".tick text").attr("fill", "#000").attr("font-size", size)
    .attr("font-family", "Liberation Serif, Times New Roman, serif");
}

// ----- Left panel -----
const xL = d3.scaleLinear().domain([10, 80]).range([102, 574]);
const yL = d3.scaleLinear().domain([-10, 12]).range([637, 117]);
const left = svg.append("g");

left.append("g").attr("transform", "translate(102,0)")
  .call(d3.axisLeft(yL).tickValues(growthTicks).tickFormat(d => d + "%")
    .tickSizeInner(-5).tickSizeOuter(0).tickPadding(20))
  .call(g => styleAxis(g, 19.5));
left.append("g").attr("transform", "translate(0,637)")
  .call(d3.axisBottom(xL).tickValues(giniTicksGrowth).tickSize(0).tickPadding(19))
  .call(g => styleAxis(g, 19.5));

left.append("g").selectAll("circle").data(giniGrowth).join("circle")
  .attr("cx", d => xL(d[0])).attr("cy", d => yL(d[1])).attr("r", 3.5)
  .attr("fill", BLUE);

left.append("path").datum(growthTrend)
  .attr("d", d3.line().x(d => xL(d[0])).y(d => yL(d[1])))
  .attr("fill", "none").attr("stroke", RED).attr("stroke-width", 3.2);

left.append("rect").attr("x", xL(10)).attr("y", yL(12))
  .attr("width", xL(80) - xL(10)).attr("height", yL(-10) - yL(12))
  .attr("fill", "none").attr("stroke", "#111").attr("stroke-width", 1.6);

left.append("text").attr("x", (xL(10) + xL(80)) / 2).attr("y", 694)
  .attr("text-anchor", "middle").attr("font-size", 21.3).attr("font-weight", "bold")
  .text("Gini in net income");
left.append("text")
  .attr("transform", `translate(44,${(yL(12) + yL(-10)) / 2}) rotate(-90)`)
  .attr("text-anchor", "middle").attr("font-size", 21.3).attr("font-weight", "bold")
  .text("Growth in the next 10 years");

// ----- Right panel -----
const xR = d3.scaleLinear().domain([20, 70]).range([701, 1172]);
const yR = d3.scaleLinear().domain([0, 60]).range([607, 104]);
const right = svg.append("g");

right.append("g").attr("transform", "translate(701,0)")
  .call(d3.axisLeft(yR).tickValues(durationTicks)
    .tickSizeInner(-5).tickSizeOuter(0).tickPadding(18))
  .call(g => styleAxis(g, 19.5));
right.append("g").attr("transform", "translate(0,607)")
  .call(d3.axisBottom(xR).tickValues(giniTicksSpell)
    .tickSizeInner(-5).tickSizeOuter(0).tickPadding(18))
  .call(g => styleAxis(g, 19.5));

right.append("g").selectAll("circle").data(spellPoints).join("circle")
  .attr("cx", d => xR(d[0])).attr("cy", d => yR(d[1])).attr("r", 6.3)
  .attr("fill", BLUE);

right.append("path").datum(spellTrend)
  .attr("d", d3.line().x(d => xR(d[0])).y(d => yR(d[1])))
  .attr("fill", "none").attr("stroke", RED).attr("stroke-width", 3.5);

right.append("rect").attr("x", xR(20)).attr("y", yR(60))
  .attr("width", xR(70) - xR(20)).attr("height", yR(0) - yR(60))
  .attr("fill", "none").attr("stroke", "#111").attr("stroke-width", 1.6);

right.append("text").attr("x", 937).attr("y", 671)
  .attr("text-anchor", "middle").attr("font-size", 21.3).attr("font-weight", "bold")
  .text("Gini in net income at the beginning of the spell");
right.append("text")
  .attr("transform", `translate(650,${(yR(60) + yR(0)) / 2}) rotate(-90)`)
  .attr("text-anchor", "middle").attr("font-size", 21.3).attr("font-weight", "bold")
  .text("Duration of growth spell");

// ----- Captions -----
function caption(x, y0, lines, sourceY) {
  const g = svg.append("g").attr("font-size", 21.4).attr("font-style", "italic");
  g.selectAll("text.line").data(lines).join("text").attr("class", "line")
    .attr("x", x).attr("y", (d, i) => y0 + i * 27.5).text(d => d);
  g.append("text").attr("x", x).attr("y", sourceY).text(sourceNote);
}
caption(22, 757, captionLeft, 844);
caption(621, 757, captionRight, 872);
</script>
</body>
</html>
